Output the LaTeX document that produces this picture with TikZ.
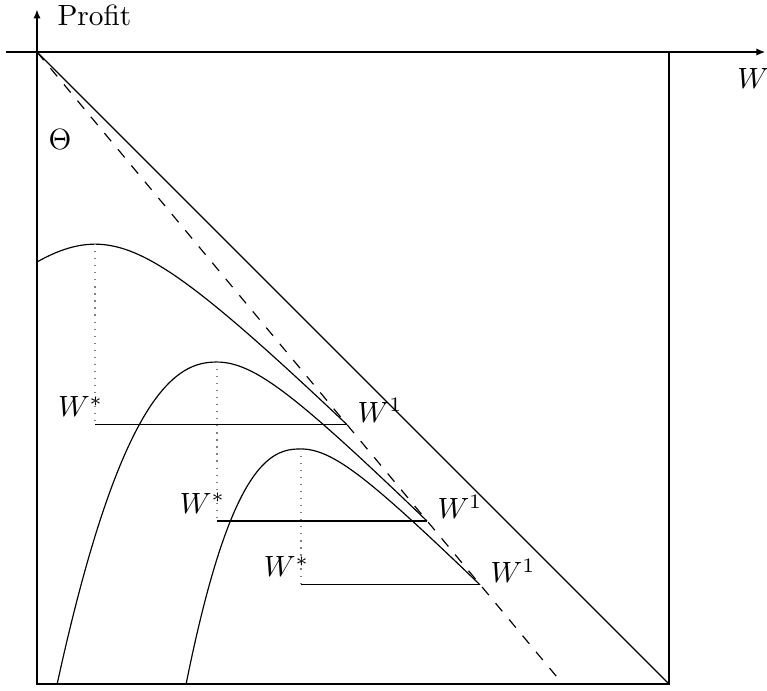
\documentclass[tikz,border=0pt]{standalone}
\usepackage{amsmath}
\usetikzlibrary{arrows.meta}

\begin{document}
\begin{tikzpicture}[x=0.7584cm,y=0.7584cm,axis/.style={-{Latex[length=3pt,width=2.5pt]}},frame/.style={semithick},guide/.style={dotted,gray},
  slbl/.style={anchor=base east,inner sep=0pt,xshift=3pt,yshift=2.7pt},wlbl/.style={anchor=base west,inner sep=0pt,xshift=3.4pt,yshift=0.7pt}]
\useasboundingbox (-0.585,0.823) rectangle (11.55,-10.095);
% axes and frame
\coordinate (O) at (0,0);
\coordinate (xleft) at (-0.49,0);
\coordinate (xend) at (11.52,0);
\coordinate (ytop) at (0,0.67);
\coordinate (bl) at (0,-10);
\coordinate (br) at (10,-10);
\coordinate (dend) at (8.32,-10);
\draw[frame] (O) rectangle (br);
\draw[axis] (xleft) -- (xend);
\draw[axis] (bl) -- (ytop);
\node[anchor=base west,inner sep=0pt] (profit) at (0.316,0.427) {Profit};
\node[anchor=base west,inner sep=0pt] (wlab) at (11.07,-0.57) {$W$};
\node (theta) at (0.364,-1.39) {$\Theta$};
\draw (O) -- (br);
\draw[dash pattern=on 3.6pt off 3.6pt] (O) -- (dend);
% peaks and end points
\coordinate (p1) at (0.918,-3.04);
\coordinate (p2) at (2.848,-4.905);
\coordinate (p3) at (4.177,-6.28);
\coordinate (e1) at (4.905,-5.895);
\coordinate (e2) at (6.17,-7.42);
\coordinate (e3) at (7.01,-8.43);
\coordinate (s1) at (p1 |- e1);
\coordinate (s2) at (p2 |- e2);
\coordinate (s3) at (p3 |- e3);
% profit curves
\draw plot[domain=0:4.905,samples=80] (\x,{-3.04-sqrt((\x-0.918)*(\x-0.918)+1.356*1.356)+1.356});
\draw plot[domain=0.319:2.847,samples=60] (\x,{-4.905-0.62*pow(2.848-\x,2.27)})
  -- plot[domain=2.848:6.17,samples=60] (\x,{-4.905-sqrt((\x-2.848)*(\x-2.848)+0.937*0.937)+0.937});
\draw plot[domain=2.359:4.176,samples=60] (\x,{-6.28-0.871*pow(4.177-\x,2.43)})
  -- plot[domain=4.177:7.01,samples=60] (\x,{-6.28-sqrt((\x-4.177)*(\x-4.177)+0.7915*0.7915)+0.7915});
% levels
\draw[guide] (p1) -- (s1);
\draw[guide] (p2) -- (s2);
\draw[guide] (p3) -- (s3);
\draw (s1) -- (e1);
\draw (s2) -- (e2);
\draw (s3) -- (e3);
\node[slbl] (ws1) at (s1) {$W^*$};
\node[slbl] (ws2) at (s2) {$W^*$};
\node[slbl] (ws3) at (s3) {$W^*$};
\node[wlbl] (wo1) at (e1) {$W^1$};
\node[wlbl] (wo2) at (e2) {$W^1$};
\node[wlbl] (wo3) at (e3) {$W^1$};
\end{tikzpicture}
\end{document}
